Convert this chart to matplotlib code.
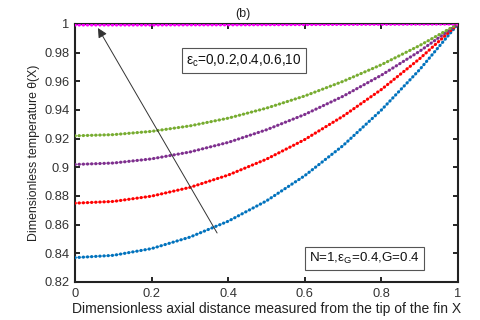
import matplotlib
matplotlib.use("Agg")
import matplotlib.pyplot as plt

plt.rcParams['font.family'] = ['Liberation Sans', 'DejaVu Sans']

# data
x_vals = [0.0, 0.1, 0.2, 0.3, 0.4, 0.5, 0.6, 0.7, 0.8, 0.9, 1.0]
theta_ec0 = [0.8370, 0.8386, 0.8433, 0.8513, 0.8624, 0.8766, 0.8942, 0.9152, 0.9400, 0.9682, 1.0]
theta_ec02 = [0.8750, 0.8762, 0.8799, 0.8860, 0.8946, 0.9057, 0.9194, 0.9357, 0.9543, 0.9758, 1.0]
theta_ec04 = [0.9020, 0.9030, 0.9059, 0.9107, 0.9174, 0.9262, 0.9369, 0.9496, 0.9643, 0.9810, 1.0]
theta_ec06 = [0.9220, 0.9228, 0.9251, 0.9289, 0.9343, 0.9413, 0.9498, 0.9600, 0.9716, 0.9850, 1.0]
theta_ec10 = [0.9993, 0.9993, 0.9993, 0.9994, 0.9994, 0.9995, 0.9996, 0.9997, 0.9998, 0.9999, 1.0]
series = [theta_ec0, theta_ec02, theta_ec04, theta_ec06, theta_ec10]
colors = ['#0072BD', '#FF0000', '#7E2F8E', '#77AC30', '#FF00FF']

x_ticks = [0, 0.2, 0.4, 0.6, 0.8, 1.0]
x_ticklabels = ['0', '0.2', '0.4', '0.6', '0.8', '1']
y_ticks = [0.82, 0.84, 0.86, 0.88, 0.90, 0.92, 0.94, 0.96, 0.98, 1.0]
y_ticklabels = ['0.82', '0.84', '0.86', '0.88', '0.9', '0.92', '0.94', '0.96', '0.98', '1']

fig = plt.figure(figsize=(4.8, 3.2), dpi=100)
ax = fig.add_axes([75/480, 1-282/320, (458-75)/480, (282-24)/320])

for ys, c in zip(series, colors):
    ax.plot(x_vals, ys, color=c, lw=0.8, alpha=0.55, solid_capstyle='butt', zorder=3)
    ax.plot(x_vals, ys, color=c, lw=2.3, linestyle=(0, (0.05, 1.25)),
            dash_capstyle='round', zorder=4)

ax.set_xlim(0, 1)
ax.set_ylim(0.82, 1.0)
ax.set_xticks(x_ticks)
ax.set_xticklabels(x_ticklabels)
ax.set_yticks(y_ticks)
ax.set_yticklabels(y_ticklabels)
ax.tick_params(direction='in', length=3.5, width=1.2, top=True, right=True,
               labelsize=9.3, labelcolor='#333333', pad=4)
for s in ax.spines.values():
    s.set_linewidth(1.5)
    s.set_color('#222222')

ax.set_xlabel('Dimensionless axial distance measured from the tip of the fin X',
              fontsize=10, color='#222222', labelpad=2)
ax.set_ylabel('Dimensionless temperature θ(X)', fontsize=8.8, color='#222222', labelpad=3)

fig.text(243/480, 1-14/320, '(b)', fontsize=9, ha='center', va='center', color='#222222')

ax.text(0.29, 0.9745, r'$\mathregular{\epsilon_c}$=0,0.2,0.4,0.6,10', fontsize=9.8,
        ha='left', va='center', color='#111111', zorder=6,
        bbox=dict(boxstyle='square,pad=0.3', fc='white', ec='#555555', lw=0.8))
ax.text(0.611, 0.8364, r'N=1,$\mathregular{\epsilon_G}$=0.4,G=0.4', fontsize=9.6,
        ha='left', va='center', color='#111111', zorder=6,
        bbox=dict(boxstyle='square,pad=0.3', fc='white', ec='#555555', lw=0.8))

ax.annotate('', xy=(0.060, 0.9972), xytext=(0.371, 0.8542),
            arrowprops=dict(arrowstyle='-|>', color='#333333', lw=0.7,
                            mutation_scale=14, shrinkA=0, shrinkB=0), zorder=5)

fig.savefig('out.png', dpi=100)
